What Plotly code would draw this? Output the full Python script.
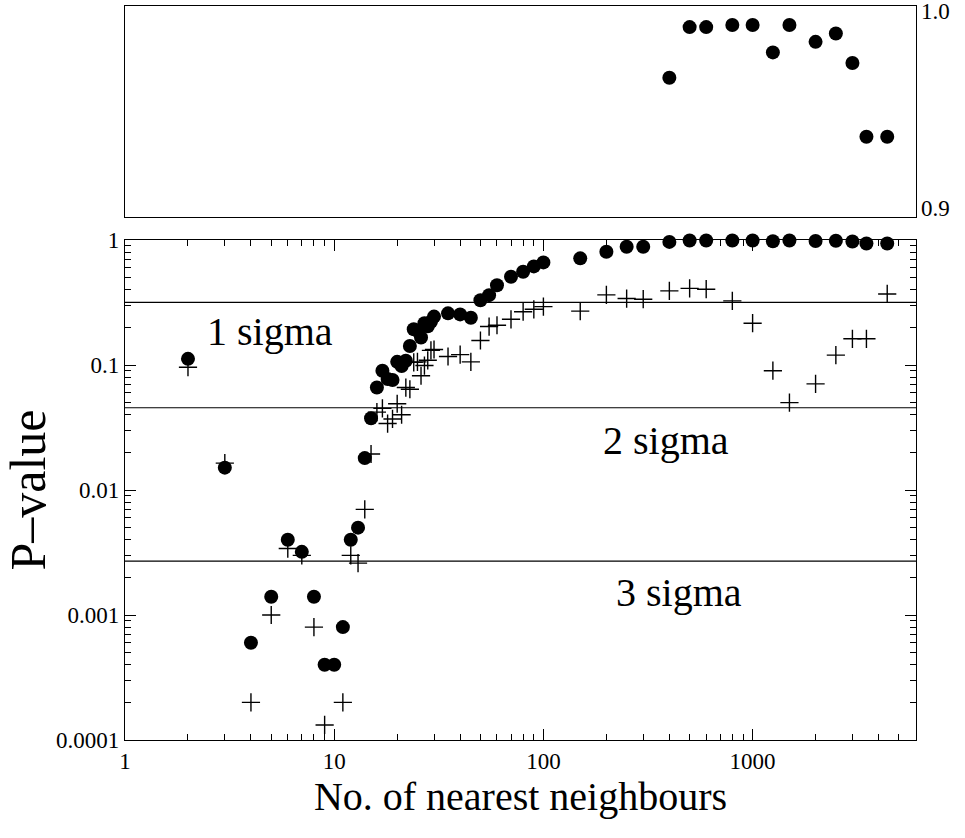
import math
import plotly.graph_objects as go

# Number of nearest neighbours used in the test
k = [2, 3, 4, 5, 6, 7, 8, 9, 10, 11, 12, 13, 14, 15, 16, 17, 18, 19, 20, 21,
     22, 23, 24, 25, 26, 27, 28, 29, 30, 35, 40, 45, 50, 55, 60, 70, 80, 90,
     100, 150, 200, 250, 300, 400, 500, 600, 800, 1000, 1250, 1500, 2000,
     2500, 3000, 3500, 4400]

# P-values, first statistic (filled circles)
p_dots = [0.112, 0.0151, 0.0006, 0.0014, 0.004, 0.0032, 0.0014, 0.0004, 0.0004,
          0.0008, 0.004, 0.005, 0.018, 0.0375, 0.066, 0.090, 0.0773, 0.0759,
          0.106, 0.098, 0.108, 0.142, 0.193, 0.188, 0.166, 0.216, 0.204, 0.222,
          0.244, 0.259, 0.254, 0.239, 0.33, 0.362, 0.435, 0.508, 0.557, 0.615,
          0.662, 0.713, 0.805, 0.883, 0.883,
          0.966, 0.990, 0.990, 0.991, 0.991, 0.978, 0.991, 0.983, 0.987, 0.973,
          0.938, 0.938]

# P-values, second statistic (plus signs); None = below the plotted range
p_plus = [0.096, 0.0164, 0.0002, 0.001, 0.0034, 0.003, 0.0008, 0.000132, None,
          0.0002, 0.003, 0.0026, 0.007, 0.0194, 0.042, 0.045, 0.034, 0.037,
          0.049, 0.040, 0.066, 0.064, 0.105, 0.106, 0.082, 0.099, 0.109, 0.131,
          0.133, 0.117, 0.121, 0.106, 0.157, 0.203, 0.208, 0.232, 0.267, 0.279,
          0.293, 0.27, 0.364, 0.34, 0.336, 0.392, 0.410, 0.404, 0.326, 0.216,
          0.090, 0.050, 0.0706, 0.12, 0.162, 0.162, 0.37]

# Subset shown in the linear close-up near P = 1
k_zoom = [400, 500, 600, 800, 1000, 1250, 1500, 2000, 2500, 3000, 3500, 4400]
p_zoom = [0.966, 0.990, 0.990, 0.991, 0.991, 0.978, 0.991, 0.983, 0.987, 0.973,
          0.938, 0.938]
zoom_range = [0.9, 1.0]
zoom_labels = ["0.9", "1.0"]

# Significance thresholds (two-sided Gaussian tails)
sigma_levels = [0.3173, 0.0455, 0.0027]
sigma_labels = ["1 sigma", "2 sigma", "3 sigma"]
sigma_label_pos = [(4.93, 0.184), (385, 0.0251), (444, 0.0015)]

x_ticks = [1, 10, 100, 1000]
x_ticktext = ["1", "10", "100", "1000"]
y_ticks = [1, 0.1, 0.01, 0.001, 0.0001]
y_ticktext = ["1", "0.1", "0.01", "0.001", "0.0001"]

SERIF = "Liberation Serif, Times New Roman, serif"
X_MAX = 6040

x_minor = [m * 10 ** d for d in range(0, 4) for m in range(2, 10) if m * 10 ** d < X_MAX]
y_minor = [m * 10.0 ** d for d in range(-4, 0) for m in range(2, 10)]

fig = go.Figure()

marker_dot = dict(symbol="circle", size=14, color="black", line=dict(width=0))
marker_plus = dict(symbol="cross-thin", size=13, color="black",
                   line=dict(width=1.4, color="black"))

fig.add_trace(go.Scatter(x=k, y=p_dots, mode="markers", marker=marker_dot,
                         xaxis="x", yaxis="y", showlegend=False, cliponaxis=False))
fig.add_trace(go.Scatter(x=k, y=p_plus, mode="markers", marker=marker_plus,
                         xaxis="x", yaxis="y", showlegend=False, cliponaxis=False))
fig.add_trace(go.Scatter(x=k_zoom, y=p_zoom, mode="markers", marker=marker_dot,
                         xaxis="x2", yaxis="y2", showlegend=False))

for lvl in sigma_levels:
    fig.add_shape(type="line", xref="x domain", yref="y", x0=0, x1=1,
                  y0=lvl, y1=lvl, line=dict(color="black", width=1.2))

for text, (xv, yv) in zip(sigma_labels, sigma_label_pos):
    fig.add_annotation(x=math.log10(xv), y=math.log10(yv), xref="x", yref="y",
                       text=text, showarrow=False,
                       font=dict(family=SERIF, size=40, color="black"))

tick_font = dict(family=SERIF, size=23, color="black")

# Right-hand labels of the close-up panel, kept inside the panel's height
for val, lab, shift in zip(zoom_range, zoom_labels, [9, -5]):
    fig.add_annotation(x=1, xref="x2 domain", y=val, yref="y2",
                       text=lab, showarrow=False, xanchor="left",
                       yanchor="middle", xshift=3, yshift=shift,
                       font=tick_font)

axis_common = dict(showline=True, linecolor="black", linewidth=1.3,
                   showgrid=False, zeroline=False, automargin=False)

fig.update_layout(
    width=965, height=838,
    margin=dict(l=125, r=49, t=6, b=98),
    paper_bgcolor="white", plot_bgcolor="white",
    font=dict(family=SERIF, color="black", size=23),
    xaxis=dict(
        **axis_common, type="log", range=[0, math.log10(X_MAX)],
        domain=[0, 1], anchor="y",
        tickmode="array", tickvals=x_ticks, ticktext=x_ticktext,
        ticks="inside", ticklen=11, tickwidth=1.2, tickcolor="black",
        mirror="allticks",
        minor=dict(ticks="inside", ticklen=6, tickwidth=1, tickcolor="black",
                   tickmode="array", tickvals=x_minor, showgrid=False),
        tickfont=tick_font,
        title=dict(text="No. of nearest neighbours",
                   font=dict(family=SERIF, size=40), standoff=4),
    ),
    yaxis=dict(
        **axis_common, type="log", range=[-4, 0],
        domain=[0, 500 / 734], anchor="x",
        tickmode="array", tickvals=y_ticks, ticktext=y_ticktext,
        ticks="inside", ticklen=11, tickwidth=1.2, tickcolor="black",
        mirror="allticks",
        minor=dict(ticks="inside", ticklen=6, tickwidth=1, tickcolor="black",
                   tickmode="array", tickvals=y_minor, showgrid=False),
        tickfont=tick_font,
        title=dict(text="P–value", font=dict(family=SERIF, size=50), standoff=8),
    ),
    xaxis2=dict(
        **axis_common, type="log", range=[0, math.log10(X_MAX)],
        domain=[0, 1], anchor="y2", matches="x",
        showticklabels=False, ticks="", mirror=True,
    ),
    yaxis2=dict(
        **axis_common, range=zoom_range,
        domain=[523 / 734, 1], anchor="x2", side="right",
        showticklabels=False, ticks="", mirror=True,
    ),
)

fig.write_html("out.html")
